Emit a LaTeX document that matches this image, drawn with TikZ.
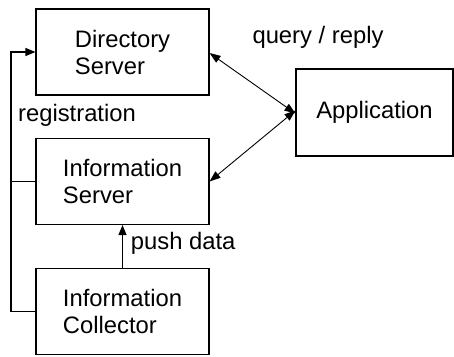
\documentclass[tikz,border=0pt]{standalone}
\usepackage{fontspec}
\setmainfont{Liberation Sans}
\usetikzlibrary{arrows.meta}
\usetikzlibrary{calc}

\begin{document}
\begin{tikzpicture}[x=1pt,y=-1pt,line width=1.1pt,
	caja/.style={draw,minimum width=173pt,minimum height=86pt,align=left,inner sep=0pt},
	flecha/.style={-{Triangle[length=10pt,width=8pt]}},
	dobleflecha/.style={{Triangle[length=11pt,width=8pt]}-{Triangle[length=11pt,width=8pt]}},
	every node/.style={font=\fontsize{23.8}{27}\selectfont}]
	\useasboundingbox (0,0) rectangle (454,356);
	
	%cajas
	\node[caja] (dir) at (122.5,52) {Directory\\Server};
	\node[caja] (is) at (122.5,181.5) {Information\\Server};
	\node[caja] (col) at (122.5,311.5) {Information\\Collector};
	\node[caja,minimum width=157pt,minimum height=87pt] (app) at (374.5,112.5) {Application};
	
	%registro
	\coordinate (reg) at (11,311.5);
	\draw[flecha] (col.west) -- (reg) |- (dir.west);
	\draw (is.west) -- (is.west -| reg);
	\node (lreg) at (77,115) {registration};
	
	%push
	\draw[flecha] (col.north) -- (is.south);
	\node[anchor=west] (lpush) at (127,243) {push data};
	
	%consultas
	\draw[dobleflecha,line width=.9pt] ([yshift=-1pt]dir.east) -- ([yshift=-1pt]app.west);
	\draw[dobleflecha,line width=.9pt] (is.east) -- ([yshift=2pt]app.west);
	\node (lquery) at (318,37) {query / reply};
\end{tikzpicture}
\end{document}
